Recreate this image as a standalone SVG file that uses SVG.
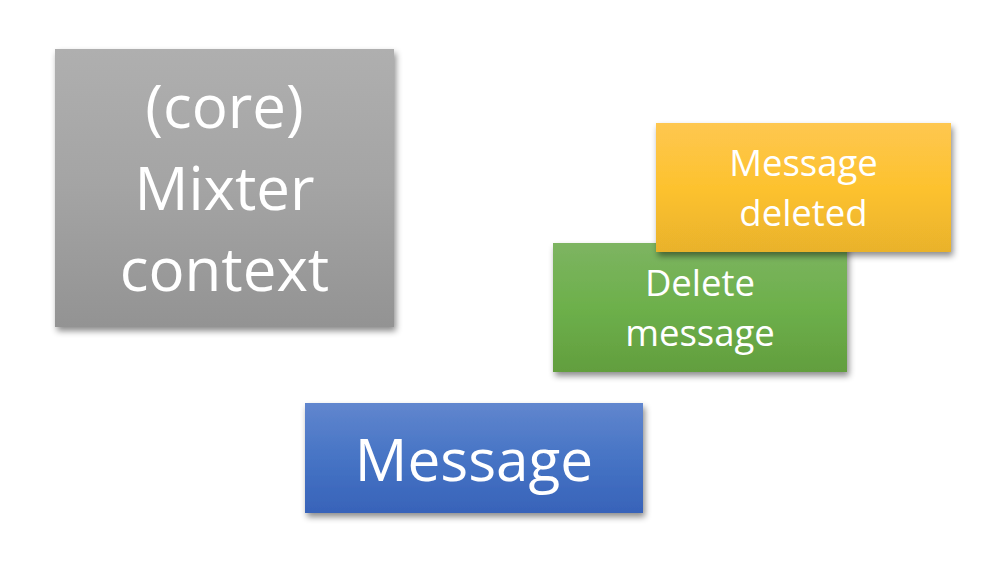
<svg xmlns="http://www.w3.org/2000/svg" width="1004" height="566" viewBox="0 0 1004 566">
  <defs>
    <linearGradient id="gGray" x1="0" y1="0" x2="0" y2="1">
      <stop offset="0" stop-color="#afafaf"/>
      <stop offset="0.5" stop-color="#a4a4a4"/>
      <stop offset="1" stop-color="#939393"/>
    </linearGradient>
    <linearGradient id="gYellow" x1="0" y1="0" x2="0" y2="1">
      <stop offset="0" stop-color="#fec750"/>
      <stop offset="0.5" stop-color="#fdc22e"/>
      <stop offset="1" stop-color="#e9b22c"/>
    </linearGradient>
    <linearGradient id="gGreen" x1="0" y1="0" x2="0" y2="1">
      <stop offset="0" stop-color="#7db461"/>
      <stop offset="0.5" stop-color="#6db04b"/>
      <stop offset="1" stop-color="#629e3e"/>
    </linearGradient>
    <linearGradient id="gBlue" x1="0" y1="0" x2="0" y2="1">
      <stop offset="0" stop-color="#6186ce"/>
      <stop offset="0.5" stop-color="#4674c5"/>
      <stop offset="1" stop-color="#3863b9"/>
    </linearGradient>
    <filter id="shadow" x="-10%" y="-10%" width="125%" height="130%">
      <feDropShadow dx="2" dy="4" stdDeviation="3" flood-color="#000" flood-opacity="0.45"/>
    </filter>
  </defs>
  <style>
    .box { filter: url(#shadow); }
    .lbl { font-family: "Open Sans", "Liberation Sans", sans-serif; fill: #ffffff; text-anchor: middle; }
  </style>
  <rect width="1004" height="566" fill="#ffffff"/>
  <g id="connectors"></g>
  <g id="node-core">
    <rect class="box" x="55" y="49" width="339" height="278" fill="url(#gGray)"/>
    <text class="lbl" font-size="60" x="224.5" y="128">(core)</text>
    <text class="lbl" font-size="60" x="224.5" y="210">Mixter</text>
    <text class="lbl" font-size="60" x="224.5" y="291">context</text>
  </g>
  <g id="node-delete">
    <rect class="box" x="553" y="243" width="294" height="129" fill="url(#gGreen)"/>
    <text class="lbl" font-size="36.5" x="700" y="296">Delete</text>
    <text class="lbl" font-size="36.5" x="700" y="346">message</text>
  </g>
  <g id="node-deleted">
    <rect class="box" x="656" y="123" width="295" height="129" fill="url(#gYellow)"/>
    <text class="lbl" font-size="36.5" x="803.5" y="176">Message</text>
    <text class="lbl" font-size="36.5" x="803.5" y="226">deleted</text>
  </g>
  <g id="node-message">
    <rect class="box" x="305" y="403" width="338" height="110" fill="url(#gBlue)"/>
    <text class="lbl" font-size="58.5" x="474" y="481">Message</text>
  </g>
</svg>
